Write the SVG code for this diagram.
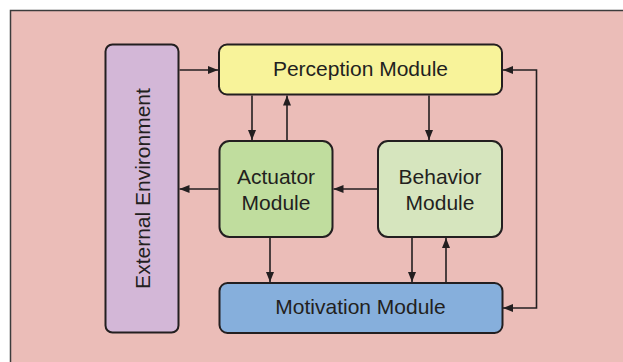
<svg xmlns="http://www.w3.org/2000/svg" width="623" height="362" viewBox="0 0 623 362">
  <style>
    .box { stroke: #231f20; stroke-width: 2; }
    .label { font-family: "Liberation Sans", Arial, sans-serif; font-size: 21px; fill: #231f20; text-anchor: middle; }
    .wire { fill: none; stroke: #231f20; stroke-width: 1.6; }
  </style>
  <defs>
    <marker id="arrow" viewBox="0 0 10 8" refX="10" refY="4" markerWidth="10" markerHeight="8" markerUnits="userSpaceOnUse" orient="auto-start-reverse">
      <path d="M0,0 L10,4 L0,8 z" fill="#231f20"/>
    </marker>
  </defs>

  <!-- page and panel -->
  <rect x="0" y="0" width="623" height="362" fill="#ffffff"/>
  <rect x="10" y="10" width="613" height="352" fill="#ebbdb8"/>
  <path d="M10.5,362 V10.5 H623" fill="none" stroke="#3c3c3c" stroke-width="1.5"/>

  <g id="external-environment">
    <rect class="box" x="105.5" y="44.5" width="73" height="288" rx="7" fill="#d3b7d7"/>
    <text class="label" transform="translate(149.5,188.5) rotate(-90)" x="0" y="0">External Environment</text>
  </g>

  <g id="perception-module">
    <rect class="box" x="219" y="44.5" width="283" height="50" rx="8" fill="#f8f39a"/>
    <text class="label" x="360.5" y="75.5">Perception Module</text>
  </g>

  <g id="actuator-module">
    <rect class="box" x="219.5" y="141" width="113" height="96" rx="10" fill="#c0dd9e"/>
    <text class="label" x="276" y="184">Actuator</text>
    <text class="label" x="276" y="209.5">Module</text>
  </g>

  <g id="behavior-module">
    <rect class="box" x="378" y="141" width="124" height="96" rx="10" fill="#d6e5be"/>
    <text class="label" x="440" y="184">Behavior</text>
    <text class="label" x="440" y="209.5">Module</text>
  </g>

  <g id="motivation-module">
    <rect class="box" x="219.5" y="283" width="283" height="50" rx="8" fill="#86afdc"/>
    <text class="label" x="360.5" y="314">Motivation Module</text>
  </g>

  <g id="connectors">
    <path class="wire" d="M179.5,70 H218" marker-end="url(#arrow)"/>
    <path class="wire" d="M252,95.5 V140" marker-end="url(#arrow)"/>
    <path class="wire" d="M287,140 V95.5" marker-end="url(#arrow)"/>
    <path class="wire" d="M429,95.5 V140" marker-end="url(#arrow)"/>
    <path class="wire" d="M218.5,189 H179.5" marker-end="url(#arrow)"/>
    <path class="wire" d="M377,189 H333.5" marker-end="url(#arrow)"/>
    <path class="wire" d="M270,238 V282" marker-end="url(#arrow)"/>
    <path class="wire" d="M412,238 V282" marker-end="url(#arrow)"/>
    <path class="wire" d="M446,282 V238" marker-end="url(#arrow)"/>
    <path class="wire" d="M503,70 H536.5 V308 H503" marker-start="url(#arrow)" marker-end="url(#arrow)"/>
  </g>
</svg>
